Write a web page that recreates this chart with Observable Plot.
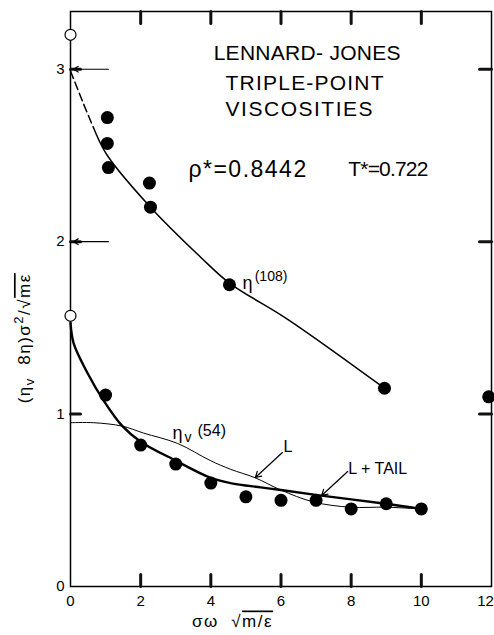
<!DOCTYPE html>
<html><head><meta charset="utf-8">
<script src="https://cdn.jsdelivr.net/npm/d3@7"></script>
<script src="https://cdn.jsdelivr.net/npm/@observablehq/plot@0.6"></script>
<style>
body{margin:0;background:#fff}
svg{font-family:"Liberation Sans",Arial,sans-serif}
svg text{white-space:pre}
</style>
</head><body><div id="chart"></div>
<script>
// ---- data ----
// 8η, N = 108 simulation points
const eta108X = [1.05, 1.05, 1.08, 2.25, 2.28, 4.53, 8.95, 11.92];
const eta108Y = [2.72, 2.57, 2.43, 2.34, 2.20, 1.75, 1.15, 1.10];
// open circles at ω = 0
const openX = [0, 0];
const openY = [3.20, 1.57];
// η_v, N = 54 simulation points
const etaVX = [1, 2, 3, 4, 5, 6, 7, 8, 9, 10];
const etaVY = [1.11, 0.82, 0.71, 0.60, 0.52, 0.50, 0.50, 0.45, 0.48, 0.45];
// η(108) fitted curve: dashed extrapolation and solid part
const fitDashX = [0, 0.37, 0.74];
const fitDashY = [2.99, 2.80, 2.62];
const fitSolidX = [0.74, 1.05, 2.28, 3.71, 4.53, 6.19, 8.95];
const fitSolidY = [2.62, 2.50, 2.20, 1.91, 1.76, 1.55, 1.15];
// "L + TAIL" curve (heavy)
const tailX = [0, 0.09, 0.48, 0.94, 1.48, 2.0, 3.0, 4.0, 4.56, 5.42, 6.0, 7.04, 8.98, 9.98];
const tailY = [1.53, 1.41, 1.24, 1.08, 0.93, 0.84, 0.73, 0.63, 0.60, 0.575, 0.56, 0.53, 0.48, 0.45];
// "L" curve (thin)
const lX = [0, 0.66, 1.48, 2.08, 3.05, 3.99, 4.56, 5.27, 5.99, 6.93, 7.98, 8.98, 9.98];
const lY = [0.95, 0.95, 0.93, 0.89, 0.83, 0.73, 0.68, 0.63, 0.56, 0.49, 0.46, 0.46, 0.45];
// arrows on the axis marking limiting values
const axisArrowValues = [3.0, 2.0];
// tick labels
const xTickLabels = [0, 2, 4, 6, 8, 10];
const xLastTick = [12];
const xInnerTicks = [2, 4, 6, 8, 10];
const yTickLabels = [0, 1, 2, 3];
const yInnerTicks = [1, 2, 3];
// texts
const titleLines = ["LENNARD- JONES", "TRIPLE-POINT", "VISCOSITIES", "ρ*=0.8442", "T*=0.722"];
const xLabel = "σω √m/ε";
const yLabel = "(ηv 8η)σ2/√mε";

// ---- annotation placement / styling ----
const titlePos = [[4.08, 3.09], [4.42, 2.92], [4.42, 2.77], [3.36, 2.42], [7.92, 2.42]];
const titleSize = [21, 21, 21, 23, 21];
const titleLen = [187, 158, 147, null, 80];
const pts = (xs, ys) => xs.map((x, i) => ({x, y: ys[i]}));

const titles = titleLines.map((t, i) => ({t, x: titlePos[i][0], y: titlePos[i][1], s: titleSize[i]}));
const labelsBig = [
  {t: "η", x: 4.90, y: 1.76},
  {t: "η", x: 2.91, y: 0.89}
];
const labelsMid = [
  {t: "(54)", x: 3.62, y: 0.90},
  {t: "L", x: 6.07, y: 0.81},
  {t: "L + TAIL", x: 7.92, y: 0.684}
];
const labelsSmall = [
  {t: "(108)", x: 5.25, y: 1.80},
  {t: "v", x: 3.25, y: 0.865}
];
const annotArrows = [
  {x1: 6.04, y1: 0.777, x2: 5.27, y2: 0.632},
  {x1: 7.90, y1: 0.667, x2: 7.16, y2: 0.528}
];
const axisArrows = axisArrowValues.map(v => ({x1: 1.08, y1: v, x2: 0.08, y2: v}));

const W = 494, H = 635, mL = 70, mR = 3, mT = 11, mB = 49;
const xDom = [0, 12], yDom = [0, 3.335];
const pxX = (W - mL - mR) / (xDom[1] - xDom[0]);   // pixels per x unit
const pxY = (H - mT - mB) / (yDom[1] - yDom[0]);   // pixels per y unit
const tickLen = 12;

// inward tick segments on the four sides of the frame
const tickSegs = [
  ...xInnerTicks.map(v => ({x1: v, x2: v, y1: yDom[0], y2: yDom[0] + tickLen / pxY})),
  ...xInnerTicks.map(v => ({x1: v, x2: v, y1: yDom[1], y2: yDom[1] - tickLen / pxY})),
  ...yInnerTicks.map(v => ({y1: v, y2: v, x1: xDom[0], x2: xDom[0] + 10 / pxX})),
  ...yInnerTicks.map(v => ({y1: v, y2: v, x1: xDom[1], x2: xDom[1] - tickLen / pxX}))
];

const chart = Plot.plot({
  width: W,
  height: H,
  marginLeft: mL,
  marginRight: mR,
  marginTop: mT,
  marginBottom: mB,
  x: {domain: xDom},
  y: {domain: yDom},
  style: {fontFamily: "'Liberation Sans', Arial, sans-serif", color: "black", background: "white"},
  marks: [
    Plot.frame({strokeWidth: 1.5}),
    Plot.arrow(tickSegs, {x1: "x1", y1: "y1", x2: "x2", y2: "y2", headLength: 0, stroke: "#111", strokeWidth: 3}),
    Plot.axisX(xTickLabels, {anchor: "bottom", tickSize: 0, tickPadding: 9, fontSize: 15, label: null}),
    Plot.axisX(xLastTick, {anchor: "bottom", tickSize: 0, tickPadding: 9, fontSize: 15, label: null, dx: -6}),
    Plot.axisY(yTickLabels, {anchor: "left", tickSize: 0, tickPadding: 6, fontSize: 15, label: null, tickFormat: "d"}),
    Plot.line(pts(fitDashX, fitDashY), {x: "x", y: "y", curve: "catmull-rom", strokeWidth: 1.5, strokeDasharray: "8,4"}),
    Plot.line(pts(fitSolidX, fitSolidY), {x: "x", y: "y", curve: "catmull-rom", strokeWidth: 1.5}),
    Plot.line(pts(lX, lY), {x: "x", y: "y", curve: "catmull-rom", strokeWidth: 1}),
    Plot.line(pts(tailX, tailY), {x: "x", y: "y", curve: "catmull-rom", strokeWidth: 2.4}),
    Plot.dot(pts(eta108X, eta108Y), {x: "x", y: "y", r: 6.5, fill: "black"}),
    Plot.dot(pts(etaVX, etaVY), {x: "x", y: "y", r: 6.5, fill: "black"}),
    Plot.dot(pts(openX, openY), {x: "x", y: "y", r: 5.5, fill: "white", stroke: "black", strokeWidth: 1.2}),
    Plot.arrow(axisArrows, {x1: "x1", y1: "y1", x2: "x2", y2: "y2", headLength: 7, strokeWidth: 1.2}),
    Plot.arrow(annotArrows, {x1: "x1", y1: "y1", x2: "x2", y2: "y2", headLength: 8, strokeWidth: 1.2}),
    ...titles.map(d => Plot.text([d], {x: "x", y: "y", text: "t", textAnchor: "start", fontSize: d.s})),
    Plot.text(labelsBig, {x: "x", y: "y", text: "t", textAnchor: "start", fontSize: 18}),
    Plot.text(labelsMid, {x: "x", y: "y", text: "t", textAnchor: "start", fontSize: 16}),
    Plot.text(labelsSmall, {x: "x", y: "y", text: "t", textAnchor: "start", fontSize: 14}),
    Plot.text([xLabel], {x: () => 4.62, frameAnchor: "bottom", dy: 40, fontSize: 17, text: d => d}),
    Plot.text([yLabel], {y: () => 1.44, frameAnchor: "left", textAnchor: "middle", dx: -46, rotate: -90, fontSize: 17, text: d => d})
  ]
});
document.getElementById("chart").appendChild(chart);

// rich formatting: sub/superscripts, radical bar, lettering widths
chart.querySelectorAll("text").forEach(el => {
  const t = el.textContent;
  if (t === yLabel) {
    el.innerHTML = '(η<tspan dy="4" font-size="13">v</tspan><tspan dy="-4">  8η)σ</tspan><tspan dy="-7" font-size="13">2</tspan><tspan dy="7">/√</tspan><tspan text-decoration="overline">mε</tspan>';
    el.setAttribute("letter-spacing", "1.5");
  } else if (t === xLabel) {
    el.innerHTML = 'σω  √<tspan text-decoration="overline">m/ε</tspan>';
    el.setAttribute("letter-spacing", "1.5");
  } else {
    const i = titleLines.indexOf(t);
    if (i >= 0 && titleLen[i]) {
      el.setAttribute("textLength", titleLen[i]);
      el.setAttribute("lengthAdjust", "spacing");
    } else if (i >= 0) {
      el.setAttribute("letter-spacing", "1.5");
    }
  }
});
</script>
</body></html>
